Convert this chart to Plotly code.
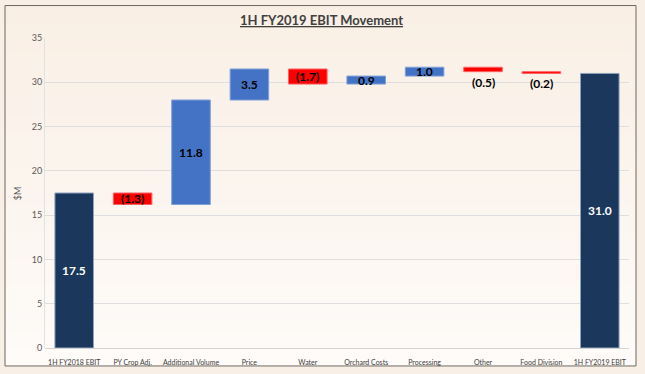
import plotly.graph_objects as go

categories = ["1H FY2018 EBIT", "PY Crop Adj.", "Additional Volume", "Price", "Water",
              "Orchard Costs", "Processing", "Other", "Food Division", "1H FY2019 EBIT"]
values = [17.5, -1.3, 11.8, 3.5, -1.7, 0.9, 1.0, -0.5, -0.2, 31.0]
kinds = ["total", "delta", "delta", "delta", "delta", "delta", "delta", "delta", "delta", "total"]
labels = ["17.5", "(1.3)", "11.8", "3.5", "(1.7)", "0.9", "1.0", "(0.5)", "(0.2)", "31.0"]
y_ticks = [0, 5, 10, 15, 20, 25, 30, 35]

W, H = 645, 374
ML, MR, MT, MB = 45, 16, 37.5, 26
PW, PH = W - ML - MR, H - MT - MB

TOTAL_C = "#1b375c"
UP_C = "#4472c4"
DOWN_C = "#ff0000"

bases, heights, colors, lines = [], [], [], []
running = 0.0
for v, k in zip(values, kinds):
    if k == "total":
        bases.append(0)
        heights.append(v)
        colors.append(TOTAL_C)
        lines.append("#8ea3bf")
        running = v
    else:
        bases.append(running)
        heights.append(v)
        colors.append(UP_C if v > 0 else DOWN_C)
        lines.append("#7e9fd8" if v > 0 else "#ff6060")
        running += v

fig = go.Figure()
fig.add_trace(go.Bar(
    x=categories, y=heights, base=bases,
    marker=dict(color=colors, line=dict(color=lines, width=1)),
    width=0.66, hoverinfo="skip",
))

annotations = []
for c, b, h, k, lab in zip(categories, bases, heights, kinds, labels):
    if k == "total":
        annotations.append(dict(x=c, y=b + h / 2, text="<b>" + lab + "</b>", showarrow=False,
                                font=dict(family="Lato", size=12, color="white")))
    elif abs(h) < 0.6:
        bottom = min(b, b + h)
        annotations.append(dict(x=c, y=bottom, yanchor="top", yshift=-1, text="<b>" + lab + "</b>",
                                showarrow=False, font=dict(family="Lato", size=12, color="black")))
    else:
        annotations.append(dict(x=c, y=b + h / 2, text="<b>" + lab + "</b>", showarrow=False,
                                font=dict(family="Lato", size=12, color="black")))

def px2paper_x(px):
    return (px - ML) / PW

def px2paper_y(py):
    return (H - MB - py) / PH

# title
annotations.append(dict(xref="paper", yref="paper", x=px2paper_x(321), y=px2paper_y(19),
                        xanchor="center", yanchor="middle",
                        text="<b><u>1H FY2019 EBIT Movement</u></b>", showarrow=False,
                        font=dict(family="Lato", size=13, color="#404040")))
# y axis title
annotations.append(dict(xref="paper", yref="paper", x=px2paper_x(17), y=px2paper_y(193),
                        xanchor="center", yanchor="middle",
                        text="$M", textangle=-90, showarrow=False,
                        font=dict(family="Lato", size=9, color="#595959")))

shapes = []
# gradient background inside frame
n = 40
x0, x1 = px2paper_x(5), px2paper_x(636)
top, bot = 5, 366
for i in range(n):
    t = i / (n - 1)
    r = round(249 + (254 - 249) * t)
    g = round(239 + (251 - 239) * t)
    bcol = round(229 + (248 - 229) * t)
    ya = top + (bot - top) * i / n
    yb = top + (bot - top) * (i + 1) / n
    shapes.append(dict(type="rect", xref="paper", yref="paper", layer="below",
                       x0=x0, x1=x1, y0=px2paper_y(ya), y1=px2paper_y(yb + 0.5),
                       fillcolor=f"rgb({r},{g},{bcol})", line=dict(width=0)))
shapes.append(dict(type="rect", xref="paper", yref="paper", layer="below",
                   x0=x0, x1=x1, y0=px2paper_y(top), y1=px2paper_y(bot),
                   fillcolor="rgba(0,0,0,0)", line=dict(color="#6f665e", width=1)))

fig.update_layout(
    width=W, height=H,
    margin=dict(l=ML, r=MR, t=MT, b=MB),
    paper_bgcolor="#f8efe6",
    plot_bgcolor="rgba(0,0,0,0)",
    showlegend=False,
    bargap=0.34,
    annotations=annotations,
    shapes=shapes,
    font=dict(family="Lato"),
    xaxis=dict(tickfont=dict(family="Lato", size=7, color="#404040"), showgrid=False,
               showline=False, ticks="outside", ticklen=8, tickcolor="rgba(0,0,0,0)",
               tickangle=0, fixedrange=True, automargin=False),
    yaxis=dict(range=[0, 35], tickvals=y_ticks, gridcolor="#dedede", gridwidth=1,
               zeroline=True, zerolinecolor="#d4d4d4", zerolinewidth=1,
               showline=True, linecolor="#e2e2e2", linewidth=1, automargin=False,
               tickfont=dict(family="Lato", size=9, color="#595959"), ticks="", fixedrange=True),
)

fig.write_html("out.html", config={"displayModeBar": False},
               post_script="document.body.style.margin='0';document.body.style.overflow='hidden';")
